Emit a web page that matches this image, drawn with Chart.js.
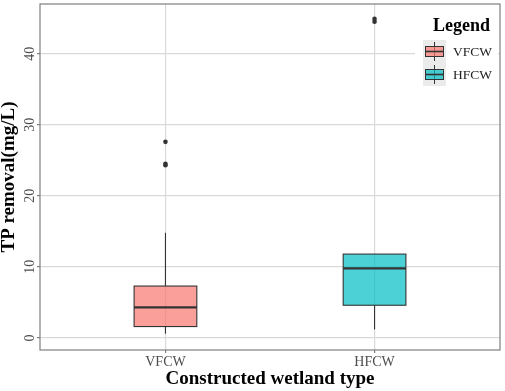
<!DOCTYPE html>
<html>
<head>
<meta charset="utf-8">
<script src="https://cdn.jsdelivr.net/npm/chart.js@4.4.1/dist/chart.umd.min.js"></script>
<style>
    html, body { margin: 0; padding: 0; background: #fff; }
</style>
</head>
<body>
<canvas id="chart" width="505" height="391"></canvas>
<script>
// box plot summary per wetland type
const categories = ["VFCW", "HFCW"];
const whiskerLow = [0.6, 1.2];
const q1 = [1.6, 4.6];
const medians = [4.3, 9.8];
const q3 = [7.3, 11.8];
const whiskerHigh = [14.8, 11.8];
const outliersVFCW = [27.6, 24.5, 24.3];
const outliersHFCW = [44.5, 44.9];
const yTicks = [0, 10, 20, 30, 40];

const fills = ["rgba(248,118,109,0.7)", "rgba(0,191,196,0.7)"];
const serif = "'Liberation Serif', 'Times New Roman', serif";
const boxHalf = 0.15;

const outlierPoints = [
    ...outliersVFCW.map(v => ({ x: 1, y: v })),
    ...outliersHFCW.map(v => ({ x: 2, y: v })),
];

function line(ctx, x1, y1, x2, y2) {
    ctx.beginPath();
    ctx.moveTo(x1, y1);
    ctx.lineTo(x2, y2);
    ctx.stroke();
}

const boxPlugin = {
    id: "boxes",
    beforeDatasetsDraw(chart) {
        const { ctx, scales: { x, y } } = chart;
        ctx.save();
        ctx.strokeStyle = "#333";
        categories.forEach((c, i) => {
            const cx = x.getPixelForValue(i + 1);
            const left = x.getPixelForValue(i + 1 - boxHalf);
            const right = x.getPixelForValue(i + 1 + boxHalf);
            const top = y.getPixelForValue(q3[i]);
            const bottom = y.getPixelForValue(q1[i]);

            ctx.lineWidth = 1.1;
            line(ctx, cx, y.getPixelForValue(whiskerLow[i]), cx, bottom);
            line(ctx, cx, top, cx, y.getPixelForValue(whiskerHigh[i]));

            ctx.fillStyle = fills[i];
            ctx.fillRect(left, top, right - left, bottom - top);
            ctx.strokeRect(left, top, right - left, bottom - top);

            const ym = y.getPixelForValue(medians[i]);
            ctx.lineWidth = 2.2;
            line(ctx, left, ym, right, ym);
        });
        ctx.restore();
    },
    afterDatasetsDraw(chart) {
        const { ctx, chartArea: a, scales: { y } } = chart;
        ctx.save();
        ctx.strokeStyle = "#7f7f7f";
        ctx.lineWidth = 1.2;
        ctx.strokeRect(a.left, a.top, a.right - a.left, a.bottom - a.top);

        // rotated y tick labels
        ctx.fillStyle = "#4d4d4d";
        ctx.font = "14px " + serif;
        ctx.textAlign = "center";
        ctx.textBaseline = "middle";
        yTicks.forEach(v => {
            ctx.save();
            ctx.translate(30.5, y.getPixelForValue(v));
            ctx.rotate(-Math.PI / 2);
            ctx.fillText(String(v), 0, 0);
            ctx.restore();
        });
        ctx.restore();
    },
    afterDraw(chart) {
        const { ctx } = chart;
        ctx.save();
        ctx.fillStyle = "#fff";
        ctx.fillRect(415, 8, 83, 84);

        ctx.fillStyle = "#000";
        ctx.font = "bold 18px " + serif;
        ctx.textAlign = "left";
        ctx.textBaseline = "alphabetic";
        ctx.fillText("Legend", 433, 31);

        categories.forEach((c, i) => {
            const ky = 40 + i * 23;
            ctx.fillStyle = "#ebebeb";
            ctx.fillRect(423, ky, 23, 23);

            ctx.strokeStyle = "#333";
            ctx.lineWidth = 1;
            line(ctx, 434.5, ky + 2, 434.5, ky + 21);
            ctx.fillStyle = fills[i];
            ctx.fillRect(425.5, ky + 6.5, 18, 10);
            ctx.strokeRect(425.5, ky + 6.5, 18, 10);
            ctx.lineWidth = 1.6;
            line(ctx, 425.5, ky + 11.5, 443.5, ky + 11.5);

            ctx.fillStyle = "#222";
            ctx.font = "13.5px " + serif;
            ctx.textBaseline = "middle";
            ctx.fillText(c, 453, ky + 12);
        });
        ctx.restore();
    }
};

new Chart(document.getElementById("chart"), {
    type: "scatter",
    data: {
        datasets: [{
            label: "outliers",
            data: outlierPoints,
            pointRadius: 2.3,
            pointBackgroundColor: "#333",
            pointBorderWidth: 0,
        }]
    },
    options: {
        responsive: false,
        animation: false,
        layout: { padding: { top: 2, right: 5, left: 0, bottom: 0 } },
        plugins: {
            legend: { display: false },
            tooltip: { enabled: false },
        },
        scales: {
            x: {
                type: "linear",
                min: 0.4,
                max: 2.6,
                afterBuildTicks: s => {
                    s.ticks = categories.map((c, i) => ({ value: i + 1 }));
                },
                afterFit: s => { s.height = 41; },
                ticks: {
                    callback: v => categories[v - 1],
                    color: "#4d4d4d",
                    font: { family: serif, size: 14 },
                    padding: 1,
                    maxRotation: 0,
                },
                grid: { color: "#d9d9d9", lineWidth: 1.2, tickLength: 3, tickColor: "#7f7f7f" },
                border: { display: false },
                title: {
                    display: true,
                    text: "Constructed wetland type",
                    color: "#000",
                    font: { family: serif, size: 19, weight: "bold", lineHeight: 1 },
                    padding: { top: 0, bottom: 2 },
                },
            },
            y: {
                type: "linear",
                min: -1.7,
                max: 47,
                afterBuildTicks: s => {
                    s.ticks = yTicks.map(v => ({ value: v }));
                },
                afterFit: s => { s.width = 40; },
                ticks: { display: false },
                grid: { color: "#d9d9d9", lineWidth: 1.2, tickLength: 3, tickColor: "#7f7f7f" },
                border: { display: false },
                title: {
                    display: true,
                    text: "TP removal(mg/L)",
                    color: "#000",
                    font: { family: serif, size: 19, weight: "bold", lineHeight: 1 },
                    padding: 0,
                },
            },
        },
    },
    plugins: [boxPlugin],
});
</script>
</body>
</html>
